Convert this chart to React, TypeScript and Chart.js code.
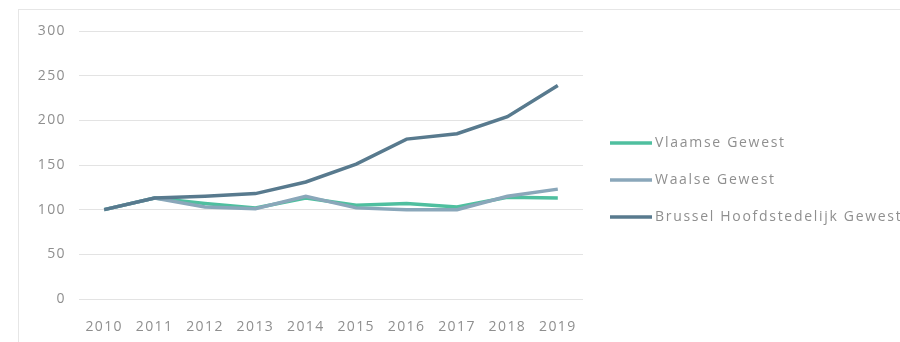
import React, { useEffect, useRef } from "react";
import { Chart, registerables } from "chart.js";

Chart.register(...registerables);

const years = ["2010", "2011", "2012", "2013", "2014", "2015", "2016", "2017", "2018", "2019"];
const vlaamse = [100, 113, 107, 102, 113, 105, 107, 103, 114, 113];
const waalse = [100, 113, 103, 101, 115, 102, 100, 100, 115, 123];
const brussel = [100, 113, 115, 118, 131, 151, 179, 185, 204, 239];
const yTicks = [0, 50, 100, 150, 200, 250, 300];

const FONT = "'Open Sans', 'DejaVu Sans', sans-serif";
const TEXT_COLOR = "#8f8f8f";

const spacingPlugin = {
  id: "letterSpacing",
  beforeLayout(chart: any) {
    (chart.ctx as any).letterSpacing = "1.4px";
  },
  beforeDraw(chart: any) {
    (chart.ctx as any).letterSpacing = "1.4px";
  },
};

const legendPlugin = {
  id: "sideLegend",
  afterDraw(chart: any) {
    const ctx = chart.ctx;
    const area = chart.chartArea;
    ctx.save();
    (ctx as any).letterSpacing = "1.7px";
    ctx.font = `14px ${FONT}`;
    ctx.textBaseline = "middle";
    ctx.textAlign = "left";
    chart.data.datasets.forEach((ds: any, i: number) => {
      const y = area.top + 112 + i * 37;
      const x0 = area.right + 27;
      ctx.strokeStyle = ds.borderColor;
      ctx.lineWidth = 3.5;
      ctx.lineCap = "butt";
      ctx.beginPath();
      ctx.moveTo(x0, y);
      ctx.lineTo(x0 + 42, y);
      ctx.stroke();
      ctx.fillStyle = TEXT_COLOR;
      ctx.fillText(ds.label, x0 + 45, y);
    });
    ctx.restore();
  },
};

export default function App() {
  const ref = useRef<HTMLCanvasElement>(null);

  useEffect(() => {
    if (!ref.current) return;
    const chart = new Chart(ref.current, {
      type: "line",
      data: {
        labels: years,
        datasets: [
          { label: "Vlaamse Gewest", data: vlaamse, order: 3, borderColor: "#4fbf9f", backgroundColor: "#4fbf9f", borderWidth: 3.5, pointRadius: 0, tension: 0 },
          { label: "Waalse Gewest", data: waalse, order: 2, borderColor: "#8aa7ba", backgroundColor: "#8aa7ba", borderWidth: 3.5, pointRadius: 0, tension: 0 },
          { label: "Brussel Hoofdstedelijk Gewest", data: brussel, order: 1, borderColor: "#587a8e", backgroundColor: "#587a8e", borderWidth: 3.5, pointRadius: 0, tension: 0 },
        ],
      },
      options: {
        animation: false,
        responsive: false,
        maintainAspectRatio: false,
        layout: { padding: { left: 0, right: 317, top: 31, bottom: 0 } },
        plugins: { legend: { display: false }, tooltip: { enabled: false } },
        scales: {
          x: {
            offset: true,
            grid: { display: false, drawTicks: false },
            border: { display: false },
            ticks: { color: TEXT_COLOR, font: { family: FONT, size: 14 }, padding: 20, maxRotation: 0 },
            afterFit: (s: any) => { s.height = 43; },
          },
          y: {
            min: 0,
            max: 300,
            afterBuildTicks: (s: any) => { s.ticks = yTicks.map((v) => ({ value: v })); },
            grid: { color: "#e3e3e3", lineWidth: 1, drawTicks: false },
            border: { display: false },
            ticks: { color: TEXT_COLOR, font: { family: FONT, size: 14 }, padding: 13 },
            afterFit: (s: any) => { s.width = 79; },
          },
        },
      },
      plugins: [spacingPlugin, legendPlugin],
    });
    return () => chart.destroy();
  }, []);

  return (
    <div style={{ position: "absolute", left: 0, top: 0, width: 900, height: 342, overflow: "hidden", background: "#fff" }}>
      <div style={{ position: "absolute", left: 18, top: 9, width: 900, height: 400, border: "1px solid #e6e6e6" }} />
      <canvas ref={ref} width={900} height={342} style={{ position: "absolute", left: 0, top: 0, width: 900, height: 342 }} />
    </div>
  );
}
